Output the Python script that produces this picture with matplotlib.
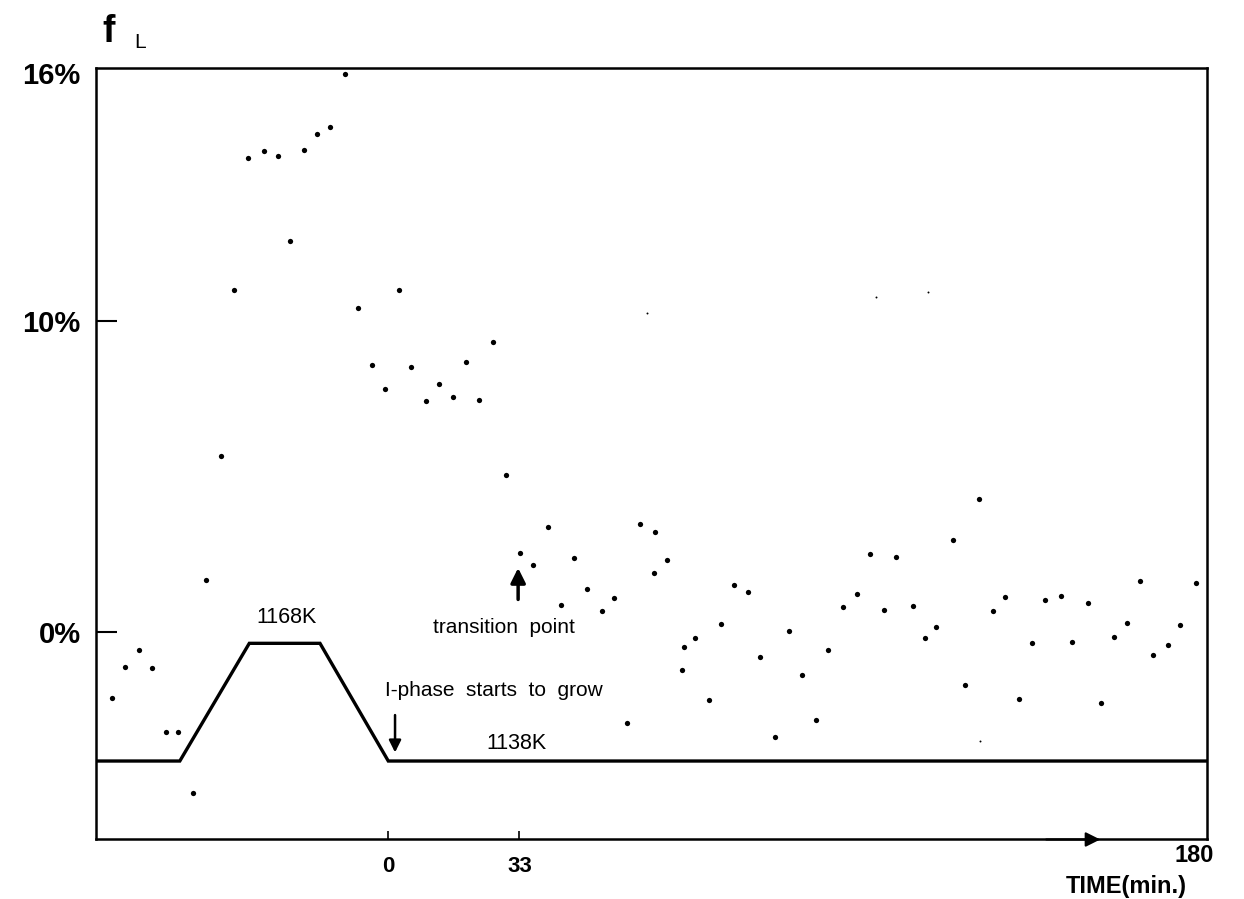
import numpy as np
import matplotlib
matplotlib.use("Agg")
import matplotlib.pyplot as plt
import matplotlib.transforms as mtransforms

plt.rcParams['font.family'] = ['Liberation Sans', 'DejaVu Sans']

# measured points: time (min) and f_L (%)
time_min = [-69.7, -66.3, -62.8, -59.4, -56.1, -52.9, -49.1, -45.9, -42.1, -38.9,
            -35.3, -31.3, -27.9, -24.8, -21.2, -17.9, -14.7, -10.9, -7.6, -4.0,
            -0.9, 2.6, 5.8, 9.6, 12.7, 16.3, 19.6, 22.9, 26.4, 29.7,
            33.1, 36.4, 40.2, 43.5, 46.7, 50.0, 53.8, 56.8, 60.1, 63.5,
            67.1, 67.0, 70.3, 73.9, 74.5, 77.3, 80.7, 83.7, 87.0, 90.6,
            93.7, 97.3, 101.0, 104.2, 107.7, 110.8, 114.5, 118.1, 121.3, 124.9,
            127.9, 132.2, 135.1, 138.0, 142.1, 145.3, 148.8, 152.2, 155.3, 158.9,
            162.1, 165.5, 169.4, 172.3, 176.1, 179.4, 182.7, 186.1, 189.3, 192.7,
            196.4, 199.3, 203.3]
f_L = [-2.14, -1.13, -0.59, -1.18, -3.23, -3.23, -5.18, 1.65, 5.64, 10.75,
       13.98, 14.16, 14.04, 11.96, 14.2, 14.58, 14.75, 16.05, 10.32, 8.59,
       7.80, 10.75, 8.51, 7.43, 7.96, 7.55, 8.66, 7.45, 9.32, 5.05,
       2.53, 2.14, 3.36, 0.85, 2.37, 1.37, 0.68, 1.10, -2.93, 3.48,
       3.20, 1.88, 2.31, -1.23, -0.49, -0.20, -2.20, 0.26, 1.49, 1.29,
       -0.82, -3.39, 0.03, -1.39, -2.83, -0.58, 0.79, 1.23, 2.50, 0.69,
       2.39, 0.82, -0.19, 0.16, 2.94, -1.70, 4.26, 0.67, 1.11, -2.16,
       -0.37, 1.02, 1.15, -0.33, 0.92, -2.30, -0.17, 0.27, 1.63, -0.74,
       -0.41, 0.23, 1.57]

# faint specks
faint_time = [65.2, 122.8, 135.9, 149.1]
faint_f = [10.2, 10.58, 10.71, -3.52]

# temperature programme
temp_time = [-73.6, -52.5, -35.0, -17.2, 0.0, 206.2]
temp_K = [1138, 1138, 1168, 1168, 1138, 1138]

ytick_vals = [0, 10]
ytick_labels = ['0%', '10%']
ytop_val = 16
ytop_label = '16%'
xtick_vals = [0, 33]
xtick_labels = ['0', '33']


# the original y axis is not linear: 0-10% and 10-16% use different steps
def fwd(y):
    y = np.asarray(y, dtype=float)
    return np.where(y <= 10, y * 31.1, 311 + (y - 10) * 40.78)


def inv(u):
    u = np.asarray(u, dtype=float)
    return np.where(u <= 311, u / 31.1, 10 + (u - 311) / 40.78)


fig = plt.figure(figsize=(12.44, 8.99), dpi=100)
ax = fig.add_axes([0.0772, 0.0662, 0.8931, 0.8582])
ax.set_yscale('function', functions=(fwd, inv))
ax.set_xlim(-73.6, 206.2)
ax.set_ylim(-6.68, 16.2)

ax.plot(time_min, f_L, 'o', color='black', ms=3.8, mew=0, clip_on=False)
ax.plot(faint_time, faint_f, 'o', color='black', ms=1.4, mew=0)

for s in ax.spines.values():
    s.set_linewidth(1.8)

ax.set_yticks(ytick_vals)
ax.set_yticklabels(ytick_labels, fontsize=21, fontweight='bold')
ax.tick_params(axis='y', direction='in', length=15, width=1.5, pad=11)
# 16% sits on the top frame, no tick mark there
trans = mtransforms.blended_transform_factory(ax.transAxes, ax.transData)
ax.text(-0.0145, ytop_val, ytop_label, transform=trans, fontsize=21,
        fontweight='bold', ha='right', va='center')

ax.set_xticks(xtick_vals)
ax.set_xticklabels(xtick_labels, fontsize=16, fontweight='bold')
ax.tick_params(axis='x', direction='in', length=6, width=1.2, pad=12)
ax.minorticks_off()

# arrow on the time axis at 180 min
ax.annotate('', xy=(180, -6.68), xytext=(165, -6.68),
            arrowprops=dict(arrowstyle='-|>', color='black', lw=1.5,
                            mutation_scale=22), annotation_clip=False)

# temperature curve on a hidden twin axis
tax = ax.twinx()
tax.set_ylim(1118.0, 1314.65)
tax.plot(temp_time, temp_K, color='black', lw=2.4, solid_joinstyle='miter')
tax.set_yticks([])
for s in tax.spines.values():
    s.set_visible(False)

ax.text(-25.6, 0.47, '1168K', fontsize=15.5, ha='center', va='center')
ax.text(32.4, -3.58, '1138K', fontsize=15.5, ha='center', va='center')
ax.text(26.6, -1.88, 'I-phase  starts  to  grow', fontsize=15,
        ha='center', va='center')
ax.text(29.1, 0.15, 'transition  point', fontsize=15, ha='center', va='center')

ax.annotate('', xy=(1.7, -3.97), xytext=(1.7, -2.59),
            arrowprops=dict(arrowstyle='-|>', color='black', lw=1.8,
                            mutation_scale=18))
ax.annotate('', xy=(32.7, 2.14), xytext=(32.7, 0.95),
            arrowprops=dict(arrowstyle='-|>', color='black', lw=2.5,
                            mutation_scale=22))

fig.text(102 / 1244, 1 - 32 / 899, 'f', fontsize=27, fontweight='bold',
         ha='left', va='center')
fig.text(140 / 1244, 1 - 42 / 899, 'L', fontsize=15, ha='center', va='center')
fig.text(1194 / 1244, 1 - 855 / 899, '180', fontsize=17, fontweight='bold',
         ha='center', va='center')
fig.text(1126 / 1244, 1 - 886 / 899, 'TIME(min.)', fontsize=17,
         fontweight='bold', ha='center', va='center')

fig.savefig('out.png', dpi=100)
